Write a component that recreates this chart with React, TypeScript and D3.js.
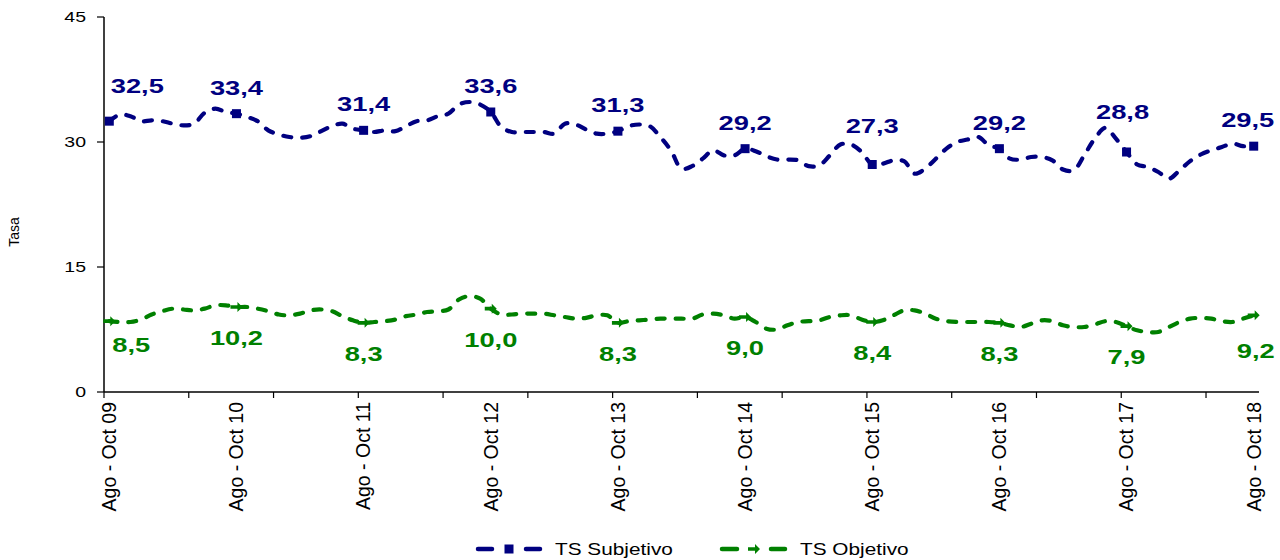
import React from "react";
import * as d3 from "d3";

// trimestres móviles, uno por mes, desde Ago - Oct 09 hasta Ago - Oct 18
const trimestres = [
  "Ago - Oct", "Sep - Nov", "Oct - Dic", "Nov - Ene", "Dic - Feb", "Ene - Mar",
  "Feb - Abr", "Mar - May", "Abr - Jun", "May - Jul", "Jun - Ago", "Jul - Sep",
];
const years = ["09", "10", "11", "12", "13", "14", "15", "16", "17", "18"];

const categories: string[] = [];
years.forEach((yy, yi) => {
  trimestres.forEach((t, ti) => {
    if (yi === years.length - 1 && ti > 0) return;
    categories.push(`${t} ${yy}`);
  });
});

const subjetivo = [
  32.5, 33.3, 33.1, 32.5, 32.6, 32.5, 32.2, 32.0, 32.2, 33.5, 34.0, 33.6,
  33.4, 33.0, 32.5, 31.4, 30.9, 30.6, 30.5, 30.7, 31.3, 31.9, 32.2, 31.6,
  31.4, 31.2, 31.4, 31.3, 31.9, 32.5, 32.6, 33.1, 33.4, 34.5, 34.8, 34.5,
  33.6, 31.8, 31.2, 31.2, 31.2, 31.2, 31.0, 32.2, 32.1, 31.5, 31.0, 31.0,
  31.3, 31.9, 32.1, 31.9, 30.6, 29.0, 26.8, 27.1, 28.0, 29.0, 28.4, 28.4,
  29.2, 28.9, 28.3, 27.9, 27.9, 27.8, 27.1, 27.2, 28.4, 29.7, 29.7, 28.8,
  27.3, 27.4, 27.8, 27.7, 26.2, 26.8, 28.0, 29.2, 30.0, 30.3, 30.6, 29.6,
  29.2, 28.0, 27.9, 28.2, 28.2, 27.8, 26.7, 26.6, 28.4, 30.4, 31.7, 30.4,
  28.8, 27.3, 27.0, 26.4, 25.6, 26.6, 27.7, 28.5, 29.0, 29.4, 29.8, 29.5,
  29.5,
];

const objetivo = [
  8.5, 8.4, 8.4, 8.7, 9.3, 9.7, 10.0, 9.9, 9.8, 10.0, 10.4, 10.4,
  10.2, 10.2, 10.0, 9.7, 9.3, 9.2, 9.4, 9.8, 9.9, 9.7, 9.1, 8.6,
  8.3, 8.4, 8.5, 8.7, 9.1, 9.3, 9.6, 9.7, 9.9, 11.1, 11.5, 11.2,
  10.0, 9.3, 9.3, 9.4, 9.4, 9.4, 9.2, 9.0, 8.8, 8.9, 9.2, 9.2,
  8.3, 8.5, 8.6, 8.7, 8.8, 8.8, 8.8, 8.8, 9.3, 9.4, 9.2, 8.8,
  9.0, 8.4, 7.6, 7.5, 8.0, 8.4, 8.5, 8.6, 9.0, 9.2, 9.2, 8.7,
  8.4, 8.6, 9.2, 9.8, 9.8, 9.4, 8.8, 8.5, 8.4, 8.4, 8.4, 8.4,
  8.3, 8.0, 7.8, 8.2, 8.6, 8.5, 8.0, 7.8, 7.8, 8.1, 8.5, 8.4,
  7.9, 7.4, 7.2, 7.2, 7.8, 8.4, 8.8, 8.9, 8.8, 8.5, 8.4, 8.8,
  9.2,
];

const yTicks = [0, 15, 30, 45];
const labelEvery = 12;
const tickEvery = 8;

const BLUE = "#000080";
const GREEN = "#008000";
const FONT = "Arial, 'Liberation Sans', sans-serif";
const SX = 1.3; // the picture is stretched horizontally

// small manual moves of some data labels [dx, dy]
const blueNudge: Record<number, [number, number]> = {
  0: [28, -9],
  72: [0, -13],
  96: [-4, -14],
  108: [-6, 0],
};
const greenNudge: Record<number, [number, number]> = {
  0: [22, -7],
  108: [2, 5],
};

const x = d3
  .scaleBand<number>()
  .domain(d3.range(categories.length))
  .range([104, 1259])
  .padding(0);
const y = d3.scaleLinear().domain([0, 45]).range([392, 17]);
const cx = (i: number) => (x(i) as number) + x.bandwidth() / 2;

const line = d3
  .line<number>()
  .x((_, i) => cx(i))
  .y((d) => y(d))
  .curve(d3.curveCatmullRom.alpha(0.5));

const fmt = (v: number) => v.toFixed(1).replace(".", ",");

function SText(props: {
  x: number;
  y: number;
  size: number;
  anchor?: string;
  weight?: string;
  fill?: string;
  rotate?: number;
  sx?: number;
  dy?: string;
  children: React.ReactNode;
}) {
  const { x, y, size, anchor = "middle", weight = "normal", fill = "#000", rotate = 0, sx = SX, dy, children } = props;
  return (
    <text
      transform={`translate(${x},${y}) scale(${sx},1)${rotate ? ` rotate(${rotate})` : ""}`}
      fontSize={size}
      fontFamily={FONT}
      fontWeight={weight}
      fill={fill}
      textAnchor={anchor}
      dy={dy}
    >
      {children}
    </text>
  );
}

const blueMarker = (px: number, py: number, key?: string) => (
  <rect key={key} x={px - 4.5} y={py - 4.5} width={9} height={9} fill={BLUE} />
);
const greenMarker = (px: number, py: number, key?: string) => (
  <path
    key={key}
    transform={`translate(${px},${py})`}
    d="M-6,-1.8 L1,-1.8 L1,-5 L6,0 L1,5 L1,1.8 L-6,1.8 Z"
    fill={GREEN}
  />
);

export default function App() {
  const labelIdx = d3.range(0, categories.length, labelEvery);
  const tickIdx = d3.range(0, categories.length, tickEvery);
  const dash = "8 11";

  return (
    <svg
      width={1280}
      height={560}
      style={{ position: "absolute", left: 0, top: 0, background: "#fff" }}
    >
      {/* y axis */}
      <line x1={104} x2={104} y1={y(45)} y2={y(0)} stroke="#000" strokeWidth={1.5} />
      {yTicks.map((t) => (
        <g key={t}>
          <line x1={97} x2={104} y1={y(t)} y2={y(t)} stroke="#000" strokeWidth={1.2} />
          <SText x={86} y={y(t)} size={15} anchor="end" dy="0.35em">
            {t}
          </SText>
        </g>
      ))}
      <SText x={19} y={232} size={14} rotate={-90} sx={1.1}>
        Tasa
      </SText>

      {/* x axis */}
      <line x1={104} x2={1259} y1={y(0)} y2={y(0)} stroke="#000" strokeWidth={1.5} />
      {tickIdx.map((i) => (
        <line
          key={i}
          x1={x(i) as number}
          x2={x(i) as number}
          y1={y(0)}
          y2={y(0) + 6}
          stroke="#000"
          strokeWidth={1.2}
        />
      ))}
      {labelIdx.map((i) => (
        <SText key={i} x={cx(i)} y={402} size={19.5} anchor="end" rotate={-90} sx={1} dy="0.35em">
          {categories[i]}
        </SText>
      ))}

      {/* series */}
      <path
        d={line(subjetivo) as string}
        fill="none"
        stroke={BLUE}
        strokeWidth={4.2}
        strokeDasharray={dash}
        strokeLinecap="round"
      />
      <path
        d={line(objetivo) as string}
        fill="none"
        stroke={GREEN}
        strokeWidth={4.2}
        strokeDasharray={dash}
        strokeLinecap="round"
      />
      {labelIdx.map((i) => blueMarker(cx(i), y(subjetivo[i]), `bm${i}`))}
      {labelIdx.map((i) => greenMarker(cx(i), y(objetivo[i]), `gm${i}`))}

      {labelIdx.map((i) => {
        const [dx, dy] = blueNudge[i] || [0, 0];
        return (
          <SText key={`bl${i}`} x={cx(i) + dx} y={y(subjetivo[i]) - 19 + dy} size={21} weight="bold" fill={BLUE}>
            {fmt(subjetivo[i])}
          </SText>
        );
      })}
      {labelIdx.map((i) => {
        const [dx, dy] = greenNudge[i] || [0, 0];
        return (
          <SText key={`gl${i}`} x={cx(i) + dx} y={y(objetivo[i]) + 38 + dy} size={21} weight="bold" fill={GREEN}>
            {fmt(objetivo[i])}
          </SText>
        );
      })}

      {/* legend */}
      <g>
        <line x1={478} x2={492} y1={549} y2={549} stroke={BLUE} strokeWidth={4.5} strokeLinecap="round" />
        {blueMarker(509, 549)}
        <line x1={526} x2={540} y1={549} y2={549} stroke={BLUE} strokeWidth={4.5} strokeLinecap="round" />
        <SText x={555} y={549} size={16} anchor="start" dy="0.35em">
          TS Subjetivo
        </SText>
        <line x1={722} x2={737} y1={549} y2={549} stroke={GREEN} strokeWidth={4.5} strokeLinecap="round" />
        {greenMarker(754, 549)}
        <line x1={771} x2={785} y1={549} y2={549} stroke={GREEN} strokeWidth={4.5} strokeLinecap="round" />
        <SText x={800} y={549} size={16} anchor="start" dy="0.35em">
          TS Objetivo
        </SText>
      </g>
    </svg>
  );
}
